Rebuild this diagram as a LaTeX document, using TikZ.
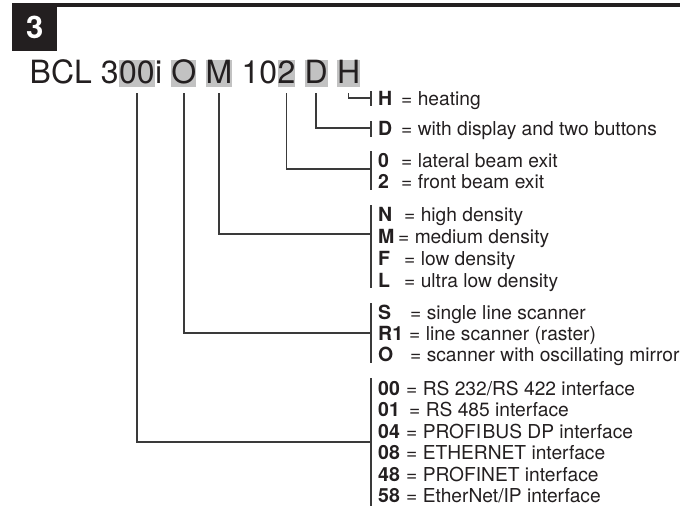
\documentclass[tikz,border=0pt]{standalone}
\usepackage{fontspec}
\setmainfont{TeX Gyre Heros}
\definecolor{ink}{HTML}{231F20}
\definecolor{hlgray}{HTML}{C2C2C2}
\definecolor{linec}{HTML}{3A3A3A}
\begin{document}
\begin{tikzpicture}[x=1pt,y=-1pt,
  keyf/.style={font=\fontsize{19.5}{20}\selectfont\bfseries, text=ink, inner sep=0pt, anchor=base west},
  descf/.style={font=\fontsize{19.2}{20}\selectfont, text=ink, inner sep=0pt, anchor=base west},
  conn/.style={draw=linec, line width=1.4pt},
  tpart/.style={font=\fontsize{32}{34}\selectfont, text=ink, inner sep=0pt, anchor=base west},
  hlpart/.style={tpart, fill=hlgray, text height=23pt, text depth=4pt}]
\useasboundingbox (0,0) rectangle (680,512);
% header
\node[fill=ink, minimum width=45pt, minimum height=48pt, anchor=north west, inner sep=0pt,
      text=white, font=\fontsize{31}{31}\selectfont\bfseries] (num) at (12,3) {3};
\draw[ink, line width=4pt] ([yshift=-2pt]num.north east) -- (680,5);
% title
\node[tpart] (t1) at (29.5,83) {BCL 3};
\node[hlpart] (h00) at (t1.base east) {00};
\node[tpart] (t2) at (h00.base east) {i};
\node[hlpart] (hO) at ([xshift=8.9pt]t2.base east) {O};
\node[hlpart] (hM) at ([xshift=8.9pt]hO.base east) {M};
\node[tpart] (t3) at ([xshift=8.9pt]hM.base east) {10};
\node[hlpart] (h2) at (t3.base east) {2};
\node[hlpart] (hD) at ([xshift=8.9pt]h2.base east) {D};
\node[hlpart] (hH) at ([xshift=8.9pt]hD.base east) {H};
% bar anchor points
\coordinate (cH) at (371,98);
\coordinate (cD) at (371,128);
\coordinate (c2) at (371,169);
\coordinate (cM) at (371,234);
\coordinate (cO) at (371,333);
\coordinate (c00) at (371,442);
% connectors
\draw[conn] ([yshift=-6pt]hH.south) |- (cH);
\draw[conn] ([yshift=-6pt]hD.south) |- (cD);
\draw[conn] ([yshift=-6pt]h2.south) |- (c2);
\draw[conn] ([yshift=-6pt]hM.south) |- (cM);
\draw[conn] ([yshift=-6pt]hO.south) |- (cO);
\draw[conn] ([yshift=-6pt]h00.south) |- (c00);
% bars
\coordinate (bHt) at (371,91);  \coordinate (bHb) at (371,106);
\coordinate (bDt) at (371,121); \coordinate (bDb) at (371,137);
\coordinate (b2t) at (371,151); \coordinate (b2b) at (371,190);
\coordinate (bMt) at (371,205); \coordinate (bMb) at (371,288);
\coordinate (bOt) at (371,303); \coordinate (bOb) at (371,363);
\coordinate (b0t) at (371,378); \coordinate (b0b) at (371,506);
\draw[conn] (bHt) -- (bHb);
\draw[conn] (bDt) -- (bDb);
\draw[conn] (b2t) -- (b2b);
\draw[conn] (bMt) -- (bMb);
\draw[conn] (bOt) -- (bOb);
\draw[conn] (b0t) -- (b0b);
% labels
\node[keyf] (kH) at (378,105) {H};   \node[descf] (dH) at (401,105) {= heating};
\node[keyf] (kD) at (378,135) {D};   \node[descf] (dD) at (401,135) {= with display and two buttons};
\node[keyf] (k0) at (378,167) {0};   \node[descf] (d0) at (401,167) {= lateral beam exit};
\node[keyf] (k2) at (378,188) {2};   \node[descf] (d2) at (401,188) {= front beam exit};
\node[keyf] (kN) at (378,221) {N};   \node[descf] (dN) at (404,221) {= high density};
\node[keyf] (kM) at (378,243) {M};   \node[descf] (dM) at (398,243) {= medium density};
\node[keyf] (kF) at (378,265) {F};   \node[descf] (dF) at (404,265) {= low density};
\node[keyf] (kL) at (378,287) {L};   \node[descf] (dL) at (404,287) {= ultra low density};
\node[keyf] (kS) at (378,319) {S};   \node[descf] (dS) at (410,319) {= single line scanner};
\node[keyf] (kR) at (378,340) {R1};  \node[descf] (dR) at (409,340) {= line scanner (raster)};
\node[keyf] (kO) at (378,361) {O};   \node[descf] (dO) at (410,361) {= scanner with oscillating mirror};
\node[keyf] (k00) at (378,395) {00}; \node[descf] (d00) at (406,395) {= RS 232/RS 422 interface};
\node[keyf] (k01) at (378,416) {01}; \node[descf] (d01) at (409,416) {= RS 485 interface};
\node[keyf] (k04) at (378,438) {04}; \node[descf] (d04) at (406,438) {= PROFI\kern1.5pt BUS DP interface};
\node[keyf] (k08) at (378,459) {08}; \node[descf] (d08) at (406,459) {= ETHERNET interface};
\node[keyf] (k48) at (378,481) {48}; \node[descf] (d48) at (406,481) {= PROFINET interface};
\node[keyf] (k58) at (378,502) {58}; \node[descf] (d58) at (406,502) {= EtherNet/IP interface};
\end{tikzpicture}
\end{document}
